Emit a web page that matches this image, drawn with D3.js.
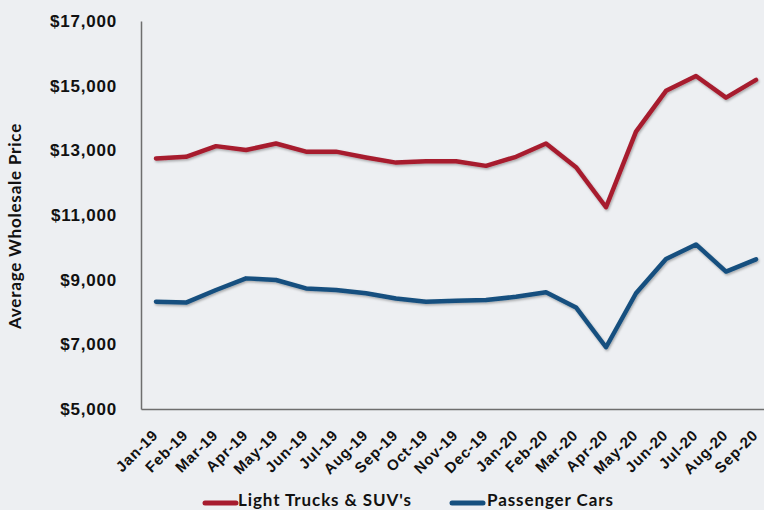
<!DOCTYPE html>
<html><head><meta charset="utf-8">
<script src="https://cdn.jsdelivr.net/npm/d3@7"></script>
<style>
html,body{margin:0;padding:0;background:#edeff2;}
svg{display:block;font-family:Lato,"Open Sans",sans-serif;}
</style></head><body>
<svg id="c" width="764" height="510"></svg>
<script>
const months = ["Jan-19","Feb-19","Mar-19","Apr-19","May-19","Jun-19","Jul-19","Aug-19","Sep-19","Oct-19","Nov-19","Dec-19","Jan-20","Feb-20","Mar-20","Apr-20","May-20","Jun-20","Jul-20","Aug-20","Sep-20"];
const trucks = [12750,12800,13130,13010,13210,12960,12960,12780,12620,12660,12660,12520,12800,13210,12480,11240,13580,14840,15300,14630,15180];
const cars = [8320,8290,8680,9040,8990,8730,8680,8580,8420,8320,8350,8370,8470,8610,8140,6910,8580,9640,10090,9250,9630];
const yTicks = [5000,7000,9000,11000,13000,15000,17000];
const seriesNames = ["Light Trucks & SUV's","Passenger Cars"];
const colors = ["#a71c2f","#16507f"];

const svg = d3.select("#c");
const m = {l:141, r:771, t:21, b:409};
const x = d3.scaleBand().domain(months).range([m.l, m.r]);
const y = d3.scaleLinear().domain([5000,17000]).range([m.b, m.t]);

const defs = svg.append("defs");
const f = defs.append("filter").attr("id","sh").attr("x","-10%").attr("y","-10%").attr("width","120%").attr("height","130%");
f.append("feDropShadow").attr("dx",1).attr("dy",1.5).attr("stdDeviation",1).attr("flood-color","#000").attr("flood-opacity",0.3);

// y axis
const ya = svg.append("g").attr("transform",`translate(${m.l},0)`)
  .call(d3.axisLeft(y).tickValues(yTicks).tickSize(0).tickPadding(24).tickFormat(d=>"$"+d3.format(",")(d)));
ya.select(".domain").attr("stroke","#6e6e6e").attr("stroke-width",1.5);
ya.selectAll("text").attr("font-size",17).attr("letter-spacing",0.8).attr("font-weight",700).attr("fill","#111");

// x axis
const xa = svg.append("g").attr("transform",`translate(0,${m.b})`)
  .call(d3.axisBottom(x).tickSize(0).tickPadding(0));
xa.select(".domain").attr("stroke","#6e6e6e").attr("stroke-width",1.5);
xa.selectAll("text").attr("font-size",15).attr("letter-spacing",0.8).attr("font-weight",700).attr("fill","#111")
  .attr("text-anchor","end").attr("dy",0)
  .attr("transform","translate(3,27) rotate(-45)");

// y title
svg.append("text").attr("transform","translate(21,226) rotate(-90)").attr("text-anchor","middle")
  .attr("font-size",17).attr("letter-spacing",0.8).attr("font-weight",700).attr("fill","#111").text("Average Wholesale Price");

const line = d3.line().x((d,i)=>x(months[i])+x.bandwidth()/2).y(d=>y(d));
[trucks,cars].forEach((s,i)=>{
  svg.append("path").datum(s).attr("d",line).attr("fill","none").attr("stroke",colors[i])
    .attr("stroke-width",4.5).attr("stroke-linejoin","round").attr("stroke-linecap","round").attr("filter","url(#sh)");
});

// legend
const lg = [{x:203,tx:238},{x:450,tx:487}];
seriesNames.forEach((n,i)=>{
  svg.append("line").attr("x1",lg[i].x+2).attr("x2",lg[i].x+33).attr("y1",503).attr("y2",503)
    .attr("stroke",colors[i]).attr("stroke-width",5).attr("stroke-linecap","round");
  svg.append("text").attr("x",lg[i].tx).attr("y",505.5).attr("font-size",17).attr("letter-spacing",0.9).attr("font-weight",700).attr("fill","#111").text(n);
});
</script>
</body></html>
